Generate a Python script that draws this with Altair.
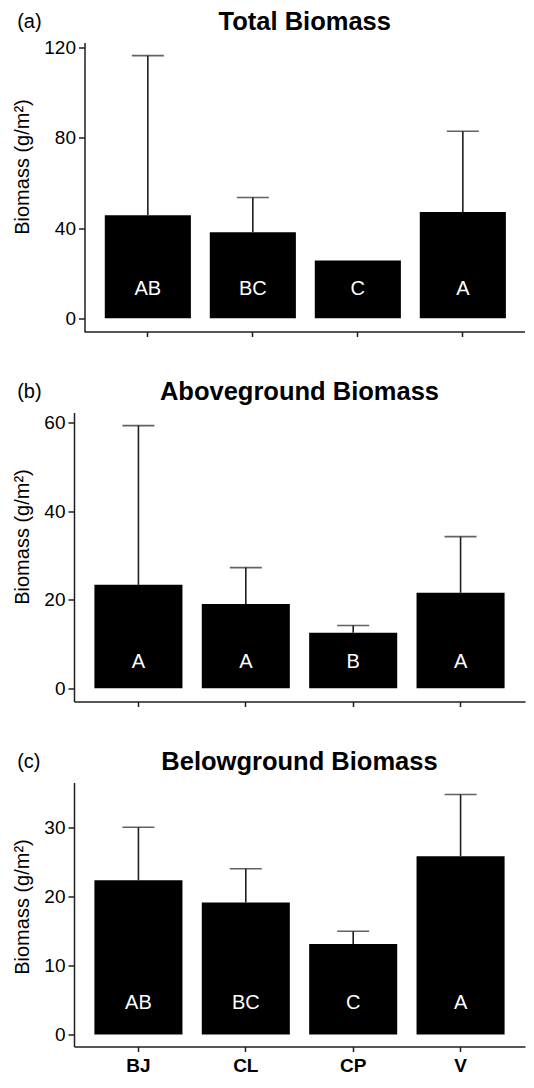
import altair as alt
import pandas as pd

sites = ["BJ", "CL", "CP", "V"]

total_mean = [45.7, 38.1, 25.6, 47.1]
total_upper = [116.3, 53.5, 25.6, 82.8]
total_letters = ["AB", "BC", "C", "A"]

above_mean = [23.4, 19.1, 12.6, 21.6]
above_upper = [59.4, 27.3, 14.2, 34.3]
above_letters = ["A", "A", "B", "A"]

below_mean = [22.35, 19.1, 13.1, 25.8]
below_upper = [30.0, 24.0, 14.95, 34.75]
below_letters = ["AB", "BC", "C", "A"]

total_ticks = [0, 40, 80, 120]
above_ticks = [0, 20, 40, 60]
below_ticks = [0, 10, 20, 30]

FONT = "Liberation Sans"
INK = "#1f1f1f"
ORIGIN = 73.5  # page x of the shared plot origin
W = 451


def panel(tag, title, mean, upper, letters, ticks, height, axis_shift,
          pad_outer, band_align, letter_dy, show_x_labels):
    df = pd.DataFrame({"site": sites, "value": mean, "upper": upper,
                       "letter": letters})
    top = max(upper)
    domain = [-0.05 * top, 1.05 * top]

    x = alt.X(
        "site:N", sort=sites, title=None,
        scale=alt.Scale(paddingInner=0.18, paddingOuter=pad_outer,
                        align=band_align),
        axis=alt.Axis(labels=show_x_labels, labelFont=FONT, labelFontSize=19,
                      labelFontWeight="bold", labelColor="black", labelAngle=0,
                      labelPadding=5, tickSize=5, tickWidth=1.5, tickColor=INK,
                      domain=(axis_shift == 0), domainColor=INK,
                      domainWidth=1.5, grid=False),
    )
    axis_x = ORIGIN + axis_shift
    y = alt.Y(
        "value:Q",
        scale=alt.Scale(domain=domain, nice=False, zero=False),
        axis=alt.Axis(values=ticks, title="Biomass (g/m²)", format="d",
                      offset=-axis_shift,
                      titleFont=FONT, titleFontSize=20, titleFontWeight="normal",
                      titleColor="black", titleBaseline="alphabetic",
                      titleAlign="center", titleX=28 - axis_x, titleY=124,
                      labelFont=FONT, labelFontSize=19, labelColor="black",
                      labelPadding=3, tickSize=6, tickWidth=1.5, tickColor=INK,
                      domainColor=INK, domainWidth=1.5, grid=False),
    )
    base = alt.Chart(df)
    bars = base.mark_bar(color="black").encode(x=x, y=y, y2=alt.datum(0))
    err = base.transform_filter("datum.upper > datum.value").mark_rule(
        color=INK, strokeWidth=1.6
    ).encode(x="site:N", y="value:Q", y2="upper:Q")
    caps = base.transform_filter("datum.upper > datum.value").mark_tick(
        color=INK, size=32, thickness=1.6
    ).encode(x="site:N", y="upper:Q")
    lett = base.mark_text(color="white", font=FONT, fontSize=20,
                          baseline="alphabetic", dy=-letter_dy).encode(
        x="site:N", y=alt.datum(0), text="letter:N")

    plot_center = (axis_x + ORIGIN + W) / 2 - ORIGIN
    tdf = pd.DataFrame({"t": [title]})
    ttl = alt.Chart(tdf).mark_text(font=FONT, fontSize=25.5, fontWeight="bold",
                                   color="black", align="center",
                                   baseline="alphabetic").encode(
        x=alt.value(plot_center), y=alt.value(-12.5), text="t:N")
    ldf = pd.DataFrame({"t": [tag]})
    lab = alt.Chart(ldf).mark_text(font=FONT, fontSize=20, color="black",
                                   align="left", baseline="alphabetic").encode(
        x=alt.value(16.7 - ORIGIN), y=alt.value(-14.5), text="t:N")

    layers = [bars, err, caps, lett, ttl, lab]
    if axis_shift != 0:
        # x-axis line starting at the shifted y-axis
        line = alt.Chart(ldf).mark_rule(color=INK, strokeWidth=1.5).encode(
            x=alt.value(axis_shift), x2=alt.value(W), y=alt.value(height + 0.5))
        layers.append(line)
    return alt.layer(*layers).properties(width=W, height=height)


pa = panel("(a)", "Total Biomass", total_mean, total_upper, total_letters,
           total_ticks, 289, 10.5, 0.2376, 0.617, 23.5, False)
pb = panel("(b)", "Aboveground Biomass", above_mean, above_upper, above_letters,
           above_ticks, 289, 0, 0.19, 0.5, 20.2, False)
pc = panel("(c)", "Belowground Biomass", below_mean, below_upper, below_letters,
           below_ticks, 264, 0, 0.19, 0.5, 26.0, True)

chart = alt.concat(pa, pb, pc, columns=1, spacing=42).resolve_scale(
    x="independent", y="independent"
).properties(
    padding={"left": 4, "top": 1.5, "right": 0, "bottom": 0}
).configure_view(stroke=None)

chart.save("out.html", embed_options={"renderer": "svg", "actions": False})
